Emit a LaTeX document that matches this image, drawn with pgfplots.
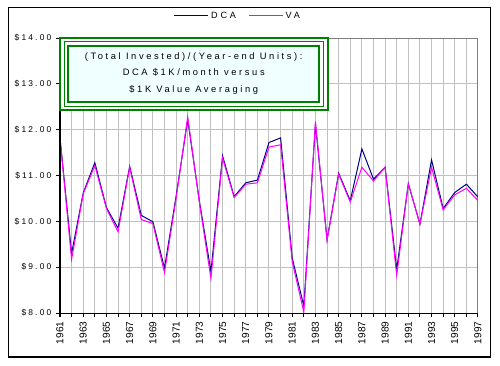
\documentclass[border=0pt]{standalone}
\usepackage{fontspec}
\setmainfont{Liberation Sans}
\newfontfamily\chartfont[LetterSpace=26]{Liberation Sans}
\newfontfamily\boxfont[LetterSpace=28]{Liberation Sans}
\newfontfamily\legfont[LetterSpace=32]{Liberation Sans}
\usepackage{pgfplots}
\usepackage{pgfplotstable}
\pgfplotsset{compat=1.18}
\definecolor{dcacol}{RGB}{0,0,128}
\definecolor{vacol}{RGB}{255,0,255}
\definecolor{gridcol}{RGB}{192,192,192}
\definecolor{boxgreen}{RGB}{0,128,0}
\definecolor{boxfill}{RGB}{240,255,255}

\pgfplotstableread{
year dca va
1961 11.82 11.82
1962 9.30 9.17
1963 10.62 10.60
1964 11.28 11.22
1965 10.30 10.28
1966 9.85 9.77
1967 11.20 11.18
1968 10.13 10.04
1969 9.99 9.95
1970 8.98 8.88
1971 10.55 10.50
1972 12.22 12.28
1973 10.45 10.42
1974 8.90 8.75
1975 11.43 11.38
1976 10.54 10.52
1977 10.84 10.81
1978 10.90 10.84
1979 11.72 11.62
1980 11.82 11.67
1981 9.20 9.12
1982 8.15 8.02
1983 12.12 12.18
1984 9.60 9.58
1985 11.05 11.03
1986 10.45 10.42
1987 11.58 11.18
1988 10.92 10.88
1989 11.18 11.18
1990 8.95 8.82
1991 10.82 10.82
1992 9.94 9.94
1993 11.34 11.18
1994 10.28 10.25
1995 10.63 10.58
1996 10.81 10.72
1997 10.53 10.45
}\datatable

\begin{document}
\begin{tikzpicture}
\path (0pt,0pt) rectangle (375pt,273.75pt);
\draw[line width=0.9pt] (6.375pt,6pt) rectangle (367.875pt,268.125pt);
\begin{axis}[
  at={(45pt,39pt)}, anchor=south west,
  scale only axis, width=313.5pt, height=206.25pt,
  xmin=1961, xmax=1997, ymin=8, ymax=14,
  xtick={1961,...,1997},
  xticklabels={1961,,1963,,1965,,1967,,1969,,1971,,1973,,1975,,1977,,1979,,1981,,1983,,1985,,1987,,1989,,1991,,1993,,1995,,1997},
  ytick={8,...,14},
  yticklabel={\$\pgfmathprintnumber[fixed,fixed zerofill,precision=2]{\tick}},
  /pgf/number format/assume math mode=true,
  yticklabel style={font=\chartfont\fontsize{6.3}{7}\selectfont},
  xticklabel style={rotate=90, anchor=east, font=\fontsize{7.6}{8}\selectfont},
  xtick pos=left, ytick pos=left,
  tick align=outside, major tick length=3pt,
  tick style={black, line width=0.75pt},
  grid=major,
  major grid style={gridcol, line width=0.75pt},
  axis line style={gray, line width=0.75pt},
  legend style={at={(0.426,1.08)}, anchor=center, draw=none, fill=none,
    legend columns=2, font=\legfont\fontsize{6.8}{7}\selectfont,
    /tikz/every even column/.append style={column sep=7pt},
    inner sep=0pt},
  legend image code/.code={\draw[#1] (0pt,0pt) -- (25.5pt,0pt);},
  after end axis/.code={
    \draw[black, line width=0.75pt] (rel axis cs:0,1) -- (rel axis cs:0,0) -- (rel axis cs:1,0);
  },
]
\addplot[dcacol, line width=0.75pt] table[x=year, y=dca] {\datatable};
\addlegendentry{DCA}
\addplot[vacol, line width=0.75pt] table[x=year, y=va] {\datatable};
\addlegendentry{VA}
\end{axis}
% annotation box
\fill[white] (45.2pt,191.0pt) rectangle (245.8pt,245.0pt);
\draw[boxgreen, line width=1.5pt] (45.2pt,191.0pt) rectangle (245.8pt,245.0pt);
\draw[boxgreen, line width=0.75pt] (48.0pt,193.9pt) rectangle (242.5pt,242.6pt);
\draw[boxgreen, line width=1.5pt, fill=boxfill] (51.3pt,197.0pt) rectangle (239.25pt,239.4pt);
\begin{scope}[every node/.style={font=\boxfont\fontsize{7}{8}\selectfont, inner sep=0pt}]
\node at (145.3pt,231.2pt) {(Total Invested)/(Year-end Units):};
\node at (145.3pt,219.2pt) {DCA \$1K/month versus};
\node at (145.3pt,206.25pt) {\$1K Value Averaging};
\end{scope}
\end{tikzpicture}
\end{document}
